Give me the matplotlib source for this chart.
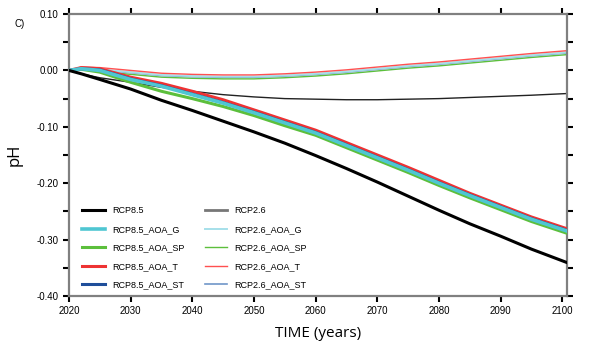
import numpy as np
import matplotlib
matplotlib.use('Agg')
import matplotlib.pyplot as plt
from matplotlib.ticker import MultipleLocator, FormatStrFormatter

years = [2020, 2022, 2025, 2030, 2035, 2040, 2045, 2050, 2055, 2060,
         2065, 2070, 2075, 2080, 2085, 2090, 2095, 2100.8]

# RCP8.5 runs
rcp85 = [0.000, -0.006, -0.016, -0.033, -0.053, -0.071, -0.090, -0.109, -0.129, -0.151,
         -0.174, -0.198, -0.223, -0.248, -0.272, -0.294, -0.317, -0.341]
rcp85_g = [0.000, 0.003, 0.000, -0.016, -0.028, -0.043, -0.058, -0.075, -0.093, -0.111,
           -0.133, -0.155, -0.177, -0.200, -0.222, -0.243, -0.264, -0.285]
rcp85_sp = [0.000, 0.002, -0.003, -0.021, -0.037, -0.050, -0.064, -0.080, -0.098, -0.115,
            -0.137, -0.159, -0.181, -0.204, -0.226, -0.247, -0.268, -0.289]
rcp85_t = [0.000, 0.005, 0.003, -0.012, -0.023, -0.037, -0.052, -0.070, -0.088, -0.106,
           -0.128, -0.150, -0.172, -0.195, -0.218, -0.239, -0.260, -0.281]
rcp85_st = [0.000, 0.003, 0.001, -0.015, -0.027, -0.042, -0.057, -0.074, -0.092, -0.110,
            -0.132, -0.154, -0.176, -0.199, -0.221, -0.242, -0.263, -0.284]

# RCP2.6 runs
rcp26 = [0.000, -0.006, -0.013, -0.021, -0.030, -0.037, -0.043, -0.047, -0.050, -0.051,
         -0.052, -0.052, -0.051, -0.050, -0.048, -0.046, -0.044, -0.041]
rcp26_g = [0.000, 0.004, 0.002, -0.003, -0.008, -0.010, -0.011, -0.011, -0.009, -0.006,
           -0.002, 0.003, 0.008, 0.012, 0.017, 0.022, 0.027, 0.032]
rcp26_sp = [0.000, 0.002, -0.002, -0.007, -0.012, -0.014, -0.015, -0.015, -0.013, -0.010,
            -0.006, -0.001, 0.004, 0.008, 0.013, 0.018, 0.023, 0.028]
rcp26_t = [0.000, 0.006, 0.005, 0.000, -0.005, -0.007, -0.008, -0.008, -0.006, -0.003,
           0.001, 0.006, 0.011, 0.015, 0.020, 0.025, 0.030, 0.035]
rcp26_st = [0.000, 0.004, 0.001, -0.004, -0.009, -0.011, -0.012, -0.012, -0.010, -0.007,
            -0.003, 0.002, 0.007, 0.011, 0.016, 0.021, 0.026, 0.031]

plt.rcParams['font.family'] = ['Liberation Sans', 'DejaVu Sans']

fig = plt.figure(figsize=(5.89, 3.6), dpi=100)
ax = fig.add_axes([0.117, 0.178, 0.846, 0.783])

# RCP2.6 lines (thin)
ax.plot(years, rcp26_sp, color='#5cbf3c', lw=1.0, label='RCP2.6_AOA_SP', zorder=2)
ax.plot(years, rcp26_st, color='#7096c8', lw=1.2, label='RCP2.6_AOA_ST', zorder=2)
ax.plot(years, rcp26_g, color='#a6e0ea', lw=1.4, label='RCP2.6_AOA_G', zorder=2)
ax.plot(years, rcp26_t, color='#ff5050', lw=1.0, label='RCP2.6_AOA_T', zorder=2)
ax.plot(years, rcp26, color='#222222', lw=1.0, label='RCP2.6', zorder=2)

# RCP8.5 lines (thick)
ax.plot(years, rcp85_sp, color='#5cbf3c', lw=2.2, label='RCP8.5_AOA_SP', zorder=3)
ax.plot(years, rcp85_t, color='#ee3333', lw=2.2, label='RCP8.5_AOA_T', zorder=3)
ax.plot(years, rcp85_st, color='#1f4e9a', lw=2.2, label='RCP8.5_AOA_ST', zorder=3)
ax.plot(years, rcp85_g, color='#4fc6d2', lw=2.6, label='RCP8.5_AOA_G', zorder=3)
ax.plot(years, rcp85, color='black', lw=2.2, label='RCP8.5', zorder=4)

ax.set_xlim(2020, 2100.8)
ax.set_ylim(-0.40, 0.10)
ax.xaxis.set_major_locator(MultipleLocator(10))
ax.yaxis.set_major_locator(MultipleLocator(0.10))
ax.yaxis.set_minor_locator(MultipleLocator(0.05))
ax.yaxis.set_major_formatter(FormatStrFormatter('%.2f'))

for s in ax.spines.values():
    s.set_color('#808080')
    s.set_linewidth(1.6)
ax.tick_params(which='both', direction='out', top=True, right=True,
               width=1.5, length=4, labelsize=7, colors='black')

ax.set_xlabel('TIME (years)', fontsize=11, family=['Open Sans', 'DejaVu Sans'], labelpad=7)
ax.set_ylabel('pH', fontsize=12, family=['Open Sans', 'DejaVu Sans'], labelpad=10)
fig.text(0.025, 0.925, 'C)', fontsize=7)

# legend order as in reference: left column RCP8.5, right column RCP2.6
handles, labels = ax.get_legend_handles_labels()
lookup = dict(zip(labels, handles))
order = ['RCP8.5', 'RCP8.5_AOA_G', 'RCP8.5_AOA_SP', 'RCP8.5_AOA_T', 'RCP8.5_AOA_ST',
         'RCP2.6', 'RCP2.6_AOA_G', 'RCP2.6_AOA_SP', 'RCP2.6_AOA_T', 'RCP2.6_AOA_ST']
leg_handles = [lookup[k] for k in order]
leg = ax.legend(leg_handles, order, ncol=2, loc='lower left', bbox_to_anchor=(0.01, -0.005),
                frameon=False, fontsize=6.5, handlelength=2.5, columnspacing=2.25,
                labelspacing=1.05, handletextpad=0.8)
leg.legend_handles[5].set_color('#777777')
leg.legend_handles[5].set_linewidth(2.0)

fig.savefig('out.png', dpi=100)
